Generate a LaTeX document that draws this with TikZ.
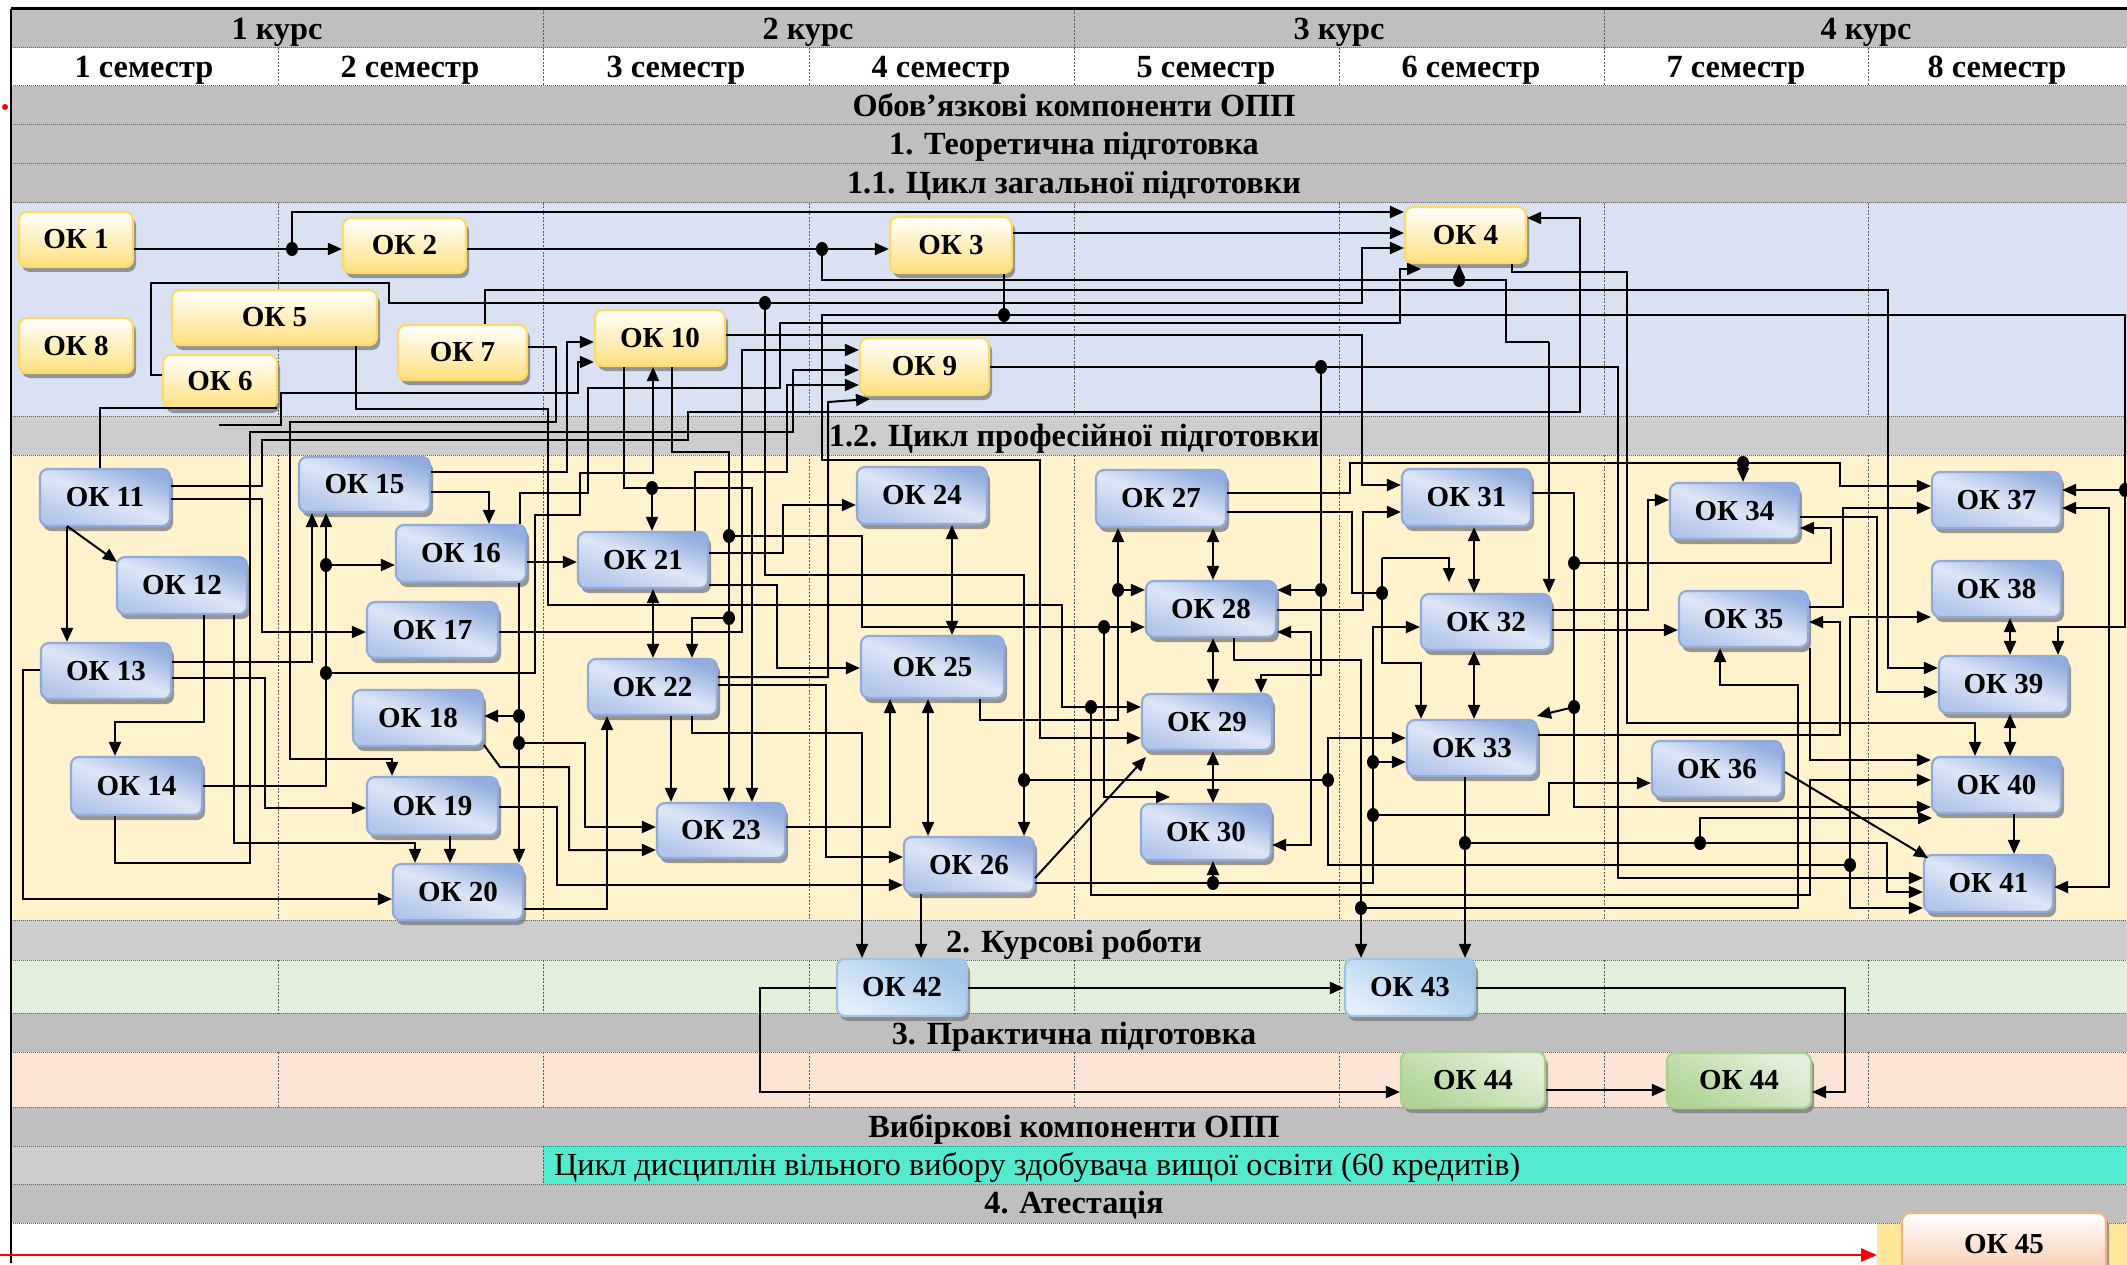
\documentclass[tikz,border=0pt]{standalone}
\usepackage{fontspec}
\setmainfont{Liberation Serif}
\usetikzlibrary{arrows.meta,shadows,calc}
\definecolor{gA}{RGB}{191,191,191}
\definecolor{gB}{RGB}{205,205,205}
\definecolor{blueBg}{RGB}{217,225,242}
\definecolor{yelBg}{RGB}{255,242,204}
\definecolor{grnBg}{RGB}{226,239,218}
\definecolor{pchBg}{RGB}{252,228,214}
\definecolor{turq}{RGB}{84,234,205}
\definecolor{atYel}{RGB}{255,230,153}
\definecolor{ybord}{RGB}{255,217,102}
\definecolor{yfill}{RGB}{255,224,125}
\definecolor{bbord}{RGB}{143,170,220}
\definecolor{bdark}{RGB}{146,173,222}
\definecolor{blight}{RGB}{221,230,246}
\definecolor{bmid}{RGB}{178,198,234}
\definecolor{gbord}{RGB}{169,209,142}
\definecolor{gdark}{RGB}{176,212,150}
\definecolor{glight}{RGB}{228,240,220}
\definecolor{obord}{RGB}{244,177,131}
\definecolor{ofill}{RGB}{248,203,173}
\definecolor{lbbord}{RGB}{157,195,230}
\definecolor{lbdark}{RGB}{160,198,232}
\definecolor{lblight}{RGB}{226,238,249}
\newcommand\hdfont{\fontsize{32.3pt}{34pt}\selectfont\bfseries}
\newcommand\bxfont{\fontsize{29pt}{31pt}\selectfont\bfseries}
\newcommand\rgfont{\fontsize{32.2pt}{34pt}\selectfont}
\newcommand\okb[7]{\node[#2, minimum width={(#5-#3)*1pt}, minimum height={(#6-#4)*1pt}] (#1) at ({(#3+#5)/2},{(#4+#6)/2}) {#7};}
\tikzset{
  okbase/.style={rounded corners=8pt, inner sep=0pt, font=\bxfont, line width=2.2pt,
     drop shadow={shadow xshift=3pt, shadow yshift=-5pt, fill=black!50, opacity=0.8}},
  okyel/.style={okbase, draw=ybord, top color=white, bottom color=yfill},
  okblu/.style={okbase, draw=bbord, top color=bdark, bottom color=bmid, middle color=blight, shading angle=-20},
  okgrn/.style={okbase, draw=gbord, top color=glight, bottom color=gdark, shading angle=-30},
  oklbl/.style={okbase, draw=lbbord, top color=lbdark, bottom color=lblight, shading angle=-30},
  okorg/.style={okbase, draw=obord, top color=white, bottom color=ofill},
  cline/.style={line width=2pt, black},
  carr/.style={cline, -{Triangle[length=14pt,width=12pt]}},
  cdbl/.style={cline, {Triangle[length=14pt,width=12pt]}-{Triangle[length=14pt,width=12pt]}},
  hdtxt/.style={font=\hdfont, inner sep=0pt, anchor=base},
  hline/.style={dash pattern=on 1pt off 1pt, black!60, line width=1pt},
  vline/.style={dash pattern=on 2pt off 1.5pt, black!65, line width=1pt}
}
\begin{document}
\begin{tikzpicture}[x=1pt,y=-1pt]
\useasboundingbox (0,0) rectangle (2127,1265);
\fill[white] (0,0) rectangle (2127,1265);
% ---------- table background ----------
\fill[gA] (11,9) rectangle (2127,48);
\fill[white] (11,48) rectangle (2127,86);
\fill[gA] (11,86) rectangle (2127,203);
\fill[blueBg] (11,203) rectangle (2127,416);
\fill[gB] (11,416) rectangle (2127,455);
\fill[yelBg] (11,455) rectangle (2127,920);
\fill[gB] (11,920) rectangle (2127,960);
\fill[grnBg] (11,960) rectangle (2127,1013);
\fill[gA] (11,1013) rectangle (2127,1052);
\fill[pchBg] (11,1052) rectangle (2127,1107);
\fill[gA] (11,1107) rectangle (2127,1146);
\fill[gB] (11,1146) rectangle (543,1184);
\fill[turq] (543,1146) rectangle (2127,1184);
\fill[gA] (11,1184) rectangle (2127,1223);
\fill[atYel] (1877,1223) rectangle (2127,1265);
\foreach \yy in {48,86,125,164,203,416,455,920,960,1013,1052,1107,1146,1184,1223}
  \draw[hline] (11,\yy) -- (2127,\yy);
\foreach \xx in {543,1074,1604} \draw[vline] (\xx,9) -- (\xx,48);
\foreach \xx in {278,543,809,1074,1339,1604,1868} {
  \draw[vline] (\xx,48) -- (\xx,86);
  \draw[vline] (\xx,203) -- (\xx,416);
  \draw[vline] (\xx,455) -- (\xx,920);
  \draw[vline] (\xx,960) -- (\xx,1013);
  \draw[vline] (\xx,1052) -- (\xx,1107);
}
\draw[vline] (543,1146) -- (543,1184);
\draw[line width=3pt] (11,9) -- (2127,9);
\draw[line width=1.5pt] (11,9) -- (11,1263);
\fill[red] (5,107) circle[radius=3pt];
% ---------- header texts ----------
\node[hdtxt] (k1) at (277,40) {1 курс};
\node[hdtxt] (k2) at (808,40) {2 курс};
\node[hdtxt] (k3) at (1339,40) {3 курс};
\node[hdtxt] (k4) at (1866,40) {4 курс};
\node[hdtxt] (s1) at (144,78) {1 семестр};
\node[hdtxt] (s2) at (410,78) {2 семестр};
\node[hdtxt] (s3) at (676,78) {3 семестр};
\node[hdtxt] (s4) at (941,78) {4 семестр};
\node[hdtxt] (s5) at (1206,78) {5 семестр};
\node[hdtxt] (s6) at (1471,78) {6 семестр};
\node[hdtxt] (s7) at (1736,78) {7 семестр};
\node[hdtxt] (s8) at (1997,78) {8 семестр};
\node[hdtxt] (t1) at (1074,117) {Обов’язкові компоненти ОПП};
\node[hdtxt] (t2) at (1074,155) {1. Теоретична підготовка};
\node[hdtxt] (t3) at (1074,194) {1.1. Цикл загальної підготовки};
\node[hdtxt] (t4) at (1074,446) {1.2. Цикл професійної підготовки};
\node[hdtxt] (t5) at (1074,952) {2. Курсові роботи};
\node[hdtxt] (t6) at (1074,1044) {3. Практична підготовка};
\node[hdtxt] (t7) at (1074,1137) {Вибіркові компоненти ОПП};
\node[font=\rgfont, inner sep=0pt, anchor=base west] (t8) at (554,1175) {Цикл дисциплін вільного вибору здобувача вищої освіти (60 кредитів)};
\node[hdtxt] (t9) at (1074,1213) {4. Атестація};
% ---------- boxes ----------
\okb{ok1}{okyel}{19}{212}{133}{267}{ОК 1}
\okb{ok2}{okyel}{343}{218}{466}{273}{ОК 2}
\okb{ok3}{okyel}{890}{217}{1012}{273}{ОК 3}
\okb{ok4}{okyel}{1405}{207}{1526}{263}{ОК 4}
\okb{ok5}{okyel}{172}{290}{377}{345}{ОК 5}
\okb{ok6}{okyel}{163}{355}{277}{408}{ОК 6}
\okb{ok7}{okyel}{398}{325}{527}{380}{ОК 7}
\okb{ok8}{okyel}{19}{318}{133}{373}{ОК 8}
\okb{ok9}{okyel}{860}{338}{989}{395}{ОК 9}
\okb{ok10}{okyel}{595}{310}{725}{366}{ОК 10}
\okb{ok11}{okblu}{40}{469}{170}{526}{ОК 11}
\okb{ok12}{okblu}{117}{557}{247}{614}{ОК 12}
\okb{ok13}{okblu}{41}{643}{171}{699}{ОК 13}
\okb{ok14}{okblu}{71}{757}{202}{815}{ОК 14}
\okb{ok15}{okblu}{299}{457}{430}{512}{ОК 15}
\okb{ok16}{okblu}{396}{525}{526}{582}{ОК 16}
\okb{ok17}{okblu}{367}{602}{498}{658}{ОК 17}
\okb{ok18}{okblu}{353}{690}{483}{746}{ОК 18}
\okb{ok19}{okblu}{367}{777}{498}{835}{ОК 19}
\okb{ok20}{okblu}{393}{864}{523}{920}{ОК 20}
\okb{ok21}{okblu}{578}{532}{708}{588}{ОК 21}
\okb{ok22}{okblu}{588}{659}{717}{715}{ОК 22}
\okb{ok23}{okblu}{657}{803}{785}{858}{ОК 23}
\okb{ok24}{okblu}{857}{467}{987}{524}{ОК 24}
\okb{ok25}{okblu}{861}{636}{1004}{698}{ОК 25}
\okb{ok26}{okblu}{904}{837}{1034}{893}{ОК 26}
\okb{ok27}{okblu}{1096}{470}{1226}{527}{ОК 27}
\okb{ok28}{okblu}{1146}{581}{1276}{637}{ОК 28}
\okb{ok29}{okblu}{1142}{694}{1272}{750}{ОК 29}
\okb{ok30}{okblu}{1141}{804}{1271}{860}{ОК 30}
\okb{ok31}{okblu}{1402}{469}{1531}{526}{ОК 31}
\okb{ok32}{okblu}{1421}{594}{1551}{650}{ОК 32}
\okb{ok33}{okblu}{1407}{720}{1537}{776}{ОК 33}
\okb{ok34}{okblu}{1670}{483}{1799}{539}{ОК 34}
\okb{ok35}{okblu}{1679}{591}{1808}{647}{ОК 35}
\okb{ok36}{okblu}{1652}{741}{1782}{797}{ОК 36}
\okb{ok37}{okblu}{1932}{472}{2061}{528}{ОК 37}
\okb{ok38}{okblu}{1932}{561}{2061}{617}{ОК 38}
\okb{ok39}{okblu}{1939}{656}{2068}{713}{ОК 39}
\okb{ok40}{okblu}{1932}{757}{2061}{813}{ОК 40}
\okb{ok41}{okblu}{1924}{855}{2053}{912}{ОК 41}
\okb{ok42}{oklbl}{837}{959}{967}{1016}{ОК 42}
\okb{ok43}{oklbl}{1345}{959}{1475}{1016}{ОК 43}
\okb{ok44a}{okgrn}{1401}{1052}{1545}{1108}{ОК 44}
\okb{ok44b}{okgrn}{1667}{1053}{1811}{1108}{ОК 44}
\okb{ok45}{okorg}{1902}{1213}{2106}{1275}{ОК 45}
% ---------- connectors: general cycle ----------
\draw[carr] (ok1.east|-0,249) -- (ok2.west|-0,249);
\draw[carr] (292,249) -- (292,212) -- (ok4.west|-0,212);
\draw[carr] (ok2.east|-0,249) -- (ok3.west|-0,249);
\draw[cline] (822,249) -- (822,280) -- (1506,280) -- (1506,342) -- (1549,342);
\draw[carr] (1549,342) -- (1549,0|-ok32.north);
\draw[carr] (1459,280) -- (1459,0|-ok4.south);
\draw[carr] (ok3.east|-0,233) -- (ok4.west|-0,233);
\draw[carr] (ok6.west|-0,375) -- (151,375) -- (151,283) -- (389,283) -- (389,303) -- (1362,303) -- (1362,248) -- (ok4.west|-0,248);
\draw[carr] (765,303) -- (765,575) -- (1024,575) -- (1024,0|-ok26.north);
\draw[cline] (1004,0|-ok3.south) -- (1004,315);
\draw[carr] (1004,315) -- (2125,315) -- (2125,627) -- (2058,627) -- (2058,0|-ok39.north);
\draw[carr] (2125,490) -- (ok37.east|-0,490);
\draw[carr] (1004,315) -- (822,315) -- (822,460) -- (1040,460) -- (1040,738) -- (ok29.west|-0,738);
\draw[carr] (485,0|-ok7.north) -- (485,290) -- (1888,290) -- (1888,668) -- (ok39.west|-0,668);
\draw[carr] (520,0|-ok16.north) -- (520,493) -- (588,493) -- (588,388) -- (780,388) -- (780,323) -- (1400,323) -- (1400,269) -- (1421,269);
\draw[carr] (ok10.east|-0,335) -- (1362,335) -- (1362,485) -- (ok31.west|-0,485);
\draw[carr] (ok17.east|-0,632) -- (742,632) -- (742,350) -- (ok9.west|-0,350);
\draw[carr] (115,0|-ok14.south) -- (115,863) -- (250,863) -- (250,432) -- (793,432) -- (793,370) -- (ok9.west|-0,370);
\draw[carr] (695,0|-ok21.north) -- (695,472) -- (787,472) -- (787,385) -- (ok9.west|-0,385);
\draw[carr] (ok22.east|-0,677) -- (828,677) -- (828,402) -- (870,399);
\draw[carr] (ok9.east|-0,367) -- (1618,367) -- (1618,878) -- (ok41.west|-0,878);
\draw[carr] (1321,367) -- (1321,590) -- (ok28.east|-0,590);
\draw[carr] (1321,590) -- (1321,675) -- (1261,675) -- (1261,0|-ok29.north);
\draw[carr] (ok11.east|-0,486) -- (262,486) -- (262,440) -- (688,440) -- (688,412) -- (1580,412) -- (1580,218) -- (ok4.east|-0,218);
\draw[carr] (356,0|-ok5.south) -- (356,409) -- (548,409) -- (548,605) -- (1062,605) -- (1062,707) -- (ok29.west|-0,707);
\draw[carr] (1091,707) -- (1091,895) -- (1810,895) -- (1810,780) -- (ok40.west|-0,780);
\draw[carr] (ok7.east|-0,347) -- (556,347) -- (556,422) -- (290,422) -- (290,759) -- (392,759) -- (392,0|-ok19.north);
\draw[cline] (100,0|-ok11.north) -- (100,408) -- (277,408);
\draw[carr] (219,425) -- (281,425) -- (281,393) -- (578,393) -- (578,362) -- (ok10.west|-0,362);
\draw[carr] (ok15.east|-0,472) -- (567,472) -- (567,342) -- (ok10.west|-0,342);
% ---------- connectors: professional cycle ----------
\draw[carr] (624,0|-ok10.south) -- (624,488) -- (752,488) -- (752,0|-ok23.north);
\draw[carr] (652,488) -- (652,0|-ok21.north);
\draw[carr] (ok14.east|-0,786) -- (326,786) -- (326,0|-ok15.south);
\draw[carr] (326,565) -- (ok16.west|-0,565);
\draw[carr] (326,673) -- (535,673) -- (535,515) -- (580,515) -- (580,473) -- (653,473) -- (653,0|-ok10.south);
\draw[carr] (672,0|-ok10.south) -- (672,452) -- (729,452) -- (729,0|-ok23.north);
\draw[carr] (729,536) -- (862,536) -- (862,627) -- (ok28.west|-0,627);
\draw[carr] (1104,627) -- (1104,797) -- (1170,797);
\draw[carr] (729,618) -- (692,618) -- (692,0|-ok22.north);
\draw[carr] (ok21.east|-0,553) -- (783,553) -- (783,505) -- (ok24.west|-0,505);
\draw[carr] (ok21.east|-0,585) -- (777,585) -- (777,668) -- (ok25.west|-0,668);
\draw[carr] (ok16.east|-0,562) -- (ok21.west|-0,562);
\draw[carr] (519,0|-ok16.south) -- (519,0|-ok20.north);
\draw[carr] (519,716) -- (ok18.east|-0,716);
\draw[carr] (519,743) -- (585,743) -- (585,827) -- (ok23.west|-0,827);
\draw[carr] (484,745) -- (500,767) -- (569,767) -- (569,850) -- (ok23.west|-0,850);
\draw[carr] (ok19.east|-0,807) -- (557,807) -- (557,885) -- (ok26.west|-0,885);
\draw[carr] (450,0|-ok19.south) -- (450,0|-ok20.north);
\draw[carr] (ok20.east|-0,909) -- (607,909) -- (607,0|-ok22.south);
\draw[cdbl] (653,0|-ok21.south) -- (653,0|-ok22.north);
\draw[carr] (671,0|-ok22.south) -- (671,0|-ok23.north);
\draw[carr] (ok22.east|-0,685) -- (826,685) -- (826,857) -- (ok26.west|-0,857);
\draw[carr] (692,0|-ok22.south) -- (692,733) -- (862,733) -- (862,0|-ok42.north);
\draw[carr] (ok23.east|-0,827) -- (890,827) -- (890,0|-ok25.south);
\draw[cdbl] (952,0|-ok24.south) -- (952,0|-ok25.north);
\draw[cdbl] (928,0|-ok25.south) -- (928,0|-ok26.north);
\draw[carr] (921,0|-ok26.south) -- (921,0|-ok42.north);
\draw[carr] (1035,878) -- (1146,757);
\draw[cline] (1024,780) -- (1328,780);
\draw[carr] (1328,780) -- (1328,738) -- (ok33.west|-0,738);
\draw[cline] (1328,780) -- (1328,865) -- (1850,865);
\draw[carr] (1850,865) -- (1850,617) -- (ok38.west|-0,617);
\draw[carr] (1850,865) -- (1850,908) -- (ok41.west|-0,908);
\draw[carr] (980,0|-ok25.south) -- (980,720) -- (1118,720) -- (1118,0|-ok27.south);
\draw[carr] (1118,590) -- (ok28.west|-0,590);
\draw[cdbl] (1213,0|-ok27.south) -- (1213,0|-ok28.north);
\draw[cdbl] (1213,0|-ok28.south) -- (1213,0|-ok29.north);
\draw[cdbl] (1213,0|-ok29.south) -- (1213,0|-ok30.north);
\draw[carr] (ok26.east|-0,883) -- (1373,883) -- (1373,627) -- (ok32.west|-0,627);
\draw[carr] (1213,883) -- (1213,0|-ok30.south);
\draw[carr] (1373,762) -- (ok33.west|-0,762);
\draw[carr] (1373,815) -- (1549,815) -- (1549,783) -- (ok36.west|-0,783);
\draw[cdbl] (ok28.east|-0,632) -- (1311,632) -- (1311,845) -- (ok30.east|-0,845);
\draw[carr] (1234,0|-ok28.south) -- (1234,660) -- (1361,660) -- (1361,0|-ok43.north);
\draw[carr] (1361,908) -- (1798,908) -- (1798,685) -- (1720,685) -- (1720,0|-ok35.south);
\draw[carr] (ok27.east|-0,493) -- (1350,493) -- (1350,463) -- (1840,463) -- (1840,486) -- (ok37.west|-0,486);
\draw[carr] (1743,463) -- (1743,0|-ok34.north);
\draw[cline] (ok27.east|-0,512) -- (1352,512) -- (1352,593) -- (1382,593);
\draw[carr] (1382,558) -- (1382,663) -- (1421,663) -- (1421,0|-ok33.north);
\draw[carr] (1382,558) -- (1449,558) -- (1449,582);
\draw[carr] (ok28.east|-0,610) -- (1363,610) -- (1363,512) -- (ok31.west|-0,512);
\draw[cdbl] (1474,0|-ok31.south) -- (1474,0|-ok32.north);
\draw[cdbl] (1474,0|-ok32.south) -- (1474,0|-ok33.north);
\draw[carr] (ok31.east|-0,493) -- (1574,493) -- (1574,807) -- (ok40.west|-0,807);
\draw[carr] (1574,563) -- (1831,563) -- (1831,528) -- (ok34.east|-0,528);
\draw[carr] (1574,707) -- (1537,716);
\draw[carr] (ok32.east|-0,610) -- (1648,610) -- (1648,500) -- (ok34.west|-0,500);
\draw[carr] (ok32.east|-0,630) -- (ok35.west|-0,630);
\draw[carr] (ok33.east|-0,735) -- (1840,735) -- (1840,622) -- (ok35.east|-0,622);
\draw[carr] (ok34.east|-0,517) -- (1877,517) -- (1877,692) -- (ok39.west|-0,692);
\draw[carr] (ok35.east|-0,607) -- (1843,607) -- (1843,508) -- (ok37.west|-0,508);
\draw[carr] (1810,0|-ok35.south) -- (1810,760) -- (ok40.west|-0,760);
\draw[carr] (1785,772) -- (1928,858);
\draw[carr] (1465,0|-ok33.south) -- (1465,0|-ok43.north);
\draw[carr] (1465,843) -- (1887,843) -- (1887,892) -- (ok41.west|-0,892);
\draw[carr] (1700,843) -- (1700,818) -- (1932,818);
\draw[cdbl] (ok37.east|-0,508) -- (2109,508) -- (2109,887) -- (ok41.east|-0,887);
\draw[cdbl] (2010,0|-ok38.south) -- (2010,0|-ok39.north);
\draw[cdbl] (2010,0|-ok39.south) -- (2010,0|-ok40.north);
\draw[carr] (2014,0|-ok40.south) -- (2014,0|-ok41.north);
\draw[carr] (1512,0|-ok4.south) -- (1512,272) -- (1627,272) -- (1627,723) -- (1975,723) -- (1975,0|-ok40.north);
\draw[carr] (204,0|-ok12.south) -- (204,722) -- (115,722) -- (115,0|-ok14.north);
\draw[carr] (234,0|-ok12.south) -- (234,843) -- (415,843) -- (415,0|-ok20.north);
\draw[carr] (67,0|-ok11.south) -- (67,0|-ok13.north);
\draw[carr] (67,526) -- (117,562);
\draw[carr] (ok11.east|-0,499) -- (262,499) -- (262,632) -- (ok17.west|-0,632);
\draw[carr] (ok13.east|-0,662) -- (312,662) -- (312,0|-ok15.south);
\draw[carr] (ok13.east|-0,678) -- (265,678) -- (265,808) -- (ok19.west|-0,808);
\draw[carr] (ok13.west|-0,670) -- (23,670) -- (23,899) -- (ok20.west|-0,899);
\draw[carr] (ok15.east|-0,492) -- (489,492) -- (489,0|-ok16.north);
% ---------- bottom ----------
\draw[carr] (ok42.east|-0,988) -- (ok43.west|-0,988);
\draw[carr] (ok42.west|-0,988) -- (760,988) -- (760,1092) -- (ok44a.west|-0,1092);
\draw[carr] (ok43.east|-0,988) -- (1845,988) -- (1845,1092) -- (ok44b.east|-0,1092);
\draw[carr] (ok44a.east|-0,1090) -- (ok44b.west|-0,1090);
\draw[red, line width=2.5pt, -{Triangle[length=16pt,width=13pt]}] (0,1255) -- (1877,1255);
% ---------- junction dots ----------
\foreach \px/\py in {292/249, 822/249, 1459/280, 765/303, 1004/315, 2125/490, 1321/367, 1321/590,
  1091/707, 652/488, 326/565, 326/673, 729/536, 729/618, 1104/627, 519/716, 519/743, 1024/780,
  1328/780, 1850/865, 1118/590, 1213/883, 1373/762, 1373/815, 1361/908, 1743/463, 1382/593,
  1574/563, 1574/707, 1465/843, 1700/843}
  \fill (\px,\py) ellipse[x radius=6pt, y radius=7pt];
\end{tikzpicture}
\end{document}
